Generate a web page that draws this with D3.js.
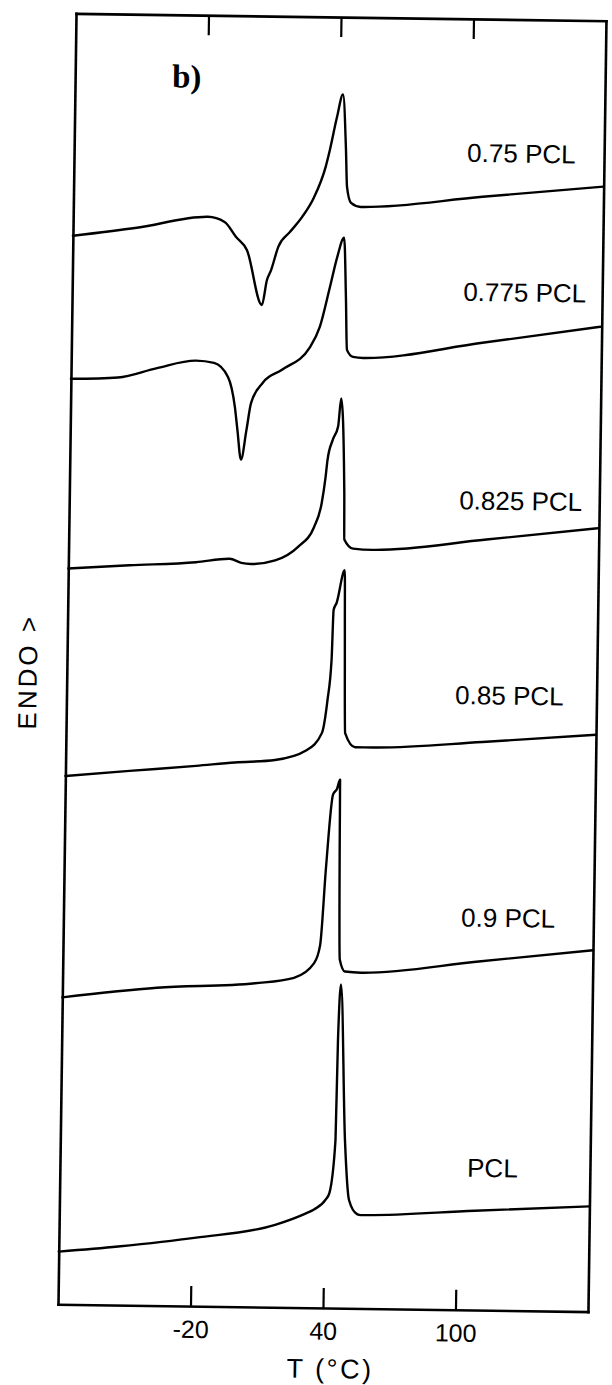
<!DOCTYPE html>
<html><head><meta charset="utf-8">
<script src="https://cdn.jsdelivr.net/npm/d3@7/dist/d3.min.js"></script>
<style>html,body{margin:0;padding:0;background:#fff}</style>
</head><body>
<svg id="c" width="612" height="1385"></svg>
<script>
// ---------------- data ----------------
const seriesNames = ["0.75 PCL", "0.775 PCL", "0.825 PCL", "0.85 PCL", "0.9 PCL", "PCL"];

// temperature (°C) and endothermic signal (arbitrary units, vertically offset)
const t075 = [-80, -51.1, -19.0, -11.4, -6.1, -1.1, 6.0, 8.1, 9.9, 13.1, 18.3, 23.6, 28.9, 34.0, 35.8, 38.8, 41.4, 43.1, 43.8, 45.7, 50.2, 105.2, 160];
const h075 = [107.6, 108.5, 109.7, 109.2, 107.7, 106.4, 100.9, 103.4, 104.4, 106.8, 108.3, 109.8, 111.8, 114.9, 116.6, 119.9, 122.2, 116.6, 112.9, 111.3, 110.9, 112.1, 113.3];

const t0775 = [-80, -58.7, -41.1, -23.5, -15.3, -8.9, -5.6, -4.3, -2.5, -0.2, 1.7, 7.0, 15.5, 28.0, 32.4, 36.7, 39.9, 42.8, 44.0, 44.8, 47.6, 52.1, 106.1, 160];
const h0775 = [93.2, 93.4, 94.4, 95.2, 95.0, 93.6, 90.6, 88.3, 85.3, 88.3, 91.0, 93.1, 94.4, 96.7, 98.8, 102.8, 105.9, 107.8, 101.8, 96.5, 95.8, 95.7, 97.4, 99.2];

const t0825 = [-80, -52.3, -22.2, -7.0, -1.7, 2.7, 13.6, 23.9, 31.0, 34.3, 35.9, 36.7, 38.9, 41.3, 42.5, 44.5, 44.8, 48.8, 57.8, 109.2, 160];
const h0825 = [74.1, 74.5, 74.9, 75.3, 74.9, 74.8, 75.2, 76.6, 78.6, 81.0, 83.6, 85.4, 87.4, 88.8, 91.6, 82.1, 77.4, 76.5, 76.4, 77.6, 78.9];

const t085 = [-80, -51.0, -20.9, -3.3, 14.8, 28.8, 35.9, 38.2, 39.8, 40.4, 41.7, 45.2, 45.6, 46.4, 51.0, 59.1, 108.6, 160];
const h085 = [53.2, 53.8, 54.4, 54.8, 55.1, 56.1, 57.9, 61.2, 65.3, 70.3, 71.0, 74.3, 68.6, 57.9, 56.5, 56.5, 57.2, 58.1];

const t09 = [-80, -37.2, 7.2, 24.8, 33.8, 36.4, 38.6, 41.3, 43.1, 44.4, 44.6, 45.4, 47.8, 55.1, 108.3, 160];
const h09 = [30.9, 32.0, 32.6, 33.2, 34.7, 36.5, 44.4, 51.7, 52.3, 53.2, 47.8, 35.1, 33.9, 33.8, 35.1, 36.4];

const tPCL = [-80, -53.2, -17.9, 17.8, 31.7, 35.3, 40.5, 42.2, 44.6, 45.1, 46.1, 48.9, 51.1, 54.8, 56.6, 108.1, 160];
const hPCL = [5.3, 5.9, 6.9, 8.3, 9.5, 9.9, 10.9, 11.6, 16.9, 27.0, 32.6, 16.9, 10.9, 9.5, 9.4, 10.0, 10.6];

const xTicks = [-20, 40, 100];
const xTickLabels = ["-20", "40", "100"];
const xDomain = [-80, 160];
const yDomain = [0, 130];
const xTitle = "T (°C)";
const yTitle = "ENDO >";
const panelTag = "b)";

// ---------------- layout ----------------
const W = 612, H = 1385;
const frame = {left: 67, top: 17, right: 597, bottom: 1308};
const tilt = 0.8, pivot = [332, 662];
const labelAnchorT = [98.0, 97.1, 96.6, 96.0, 100.1, 104.4];
const labelAnchorV = [115.6, 101.6, 80.6, 61.0, 38.6, 13.4];
const sans = "'Liberation Sans', Arial, sans-serif";

const x = d3.scaleLinear().domain(xDomain).range([frame.left, frame.right]);
const y = d3.scaleLinear().domain(yDomain).range([frame.bottom, frame.top]);

const svg = d3.select("#c");
svg.append("rect").attr("width", W).attr("height", H).attr("fill", "#fff");
const g = svg.append("g").attr("transform", `rotate(${tilt},${pivot[0]},${pivot[1]})`);

const series = [
  {t: t075, h: h075}, {t: t0775, h: h0775}, {t: t0825, h: h0825},
  {t: t085, h: h085}, {t: t09, h: h09}, {t: tPCL, h: hPCL}
];

const line = d3.line().x(d => x(d[0])).y(d => y(d[1])).curve(d3.curveMonotoneX);

g.selectAll("path.curve").data(series).join("path")
  .attr("class", "curve")
  .attr("d", s => line(d3.zip(s.t, s.h)))
  .attr("fill", "none").attr("stroke", "#000").attr("stroke-width", 2.4)
  .attr("stroke-linejoin", "round").attr("stroke-linecap", "round");

// axes
function styleAxis(sel) {
  sel.attr("font-family", sans).attr("font-size", 25);
  sel.select(".domain").attr("stroke", "#000").attr("stroke-width", 2.6).attr("stroke-linecap", "square");
  sel.selectAll(".tick line").attr("stroke", "#000").attr("stroke-width", 2.2);
  sel.selectAll(".tick text").attr("fill", "#000");
}

g.append("g").attr("transform", `translate(0,${frame.bottom})`)
  .call(d3.axisBottom(x).tickValues(xTicks).tickFormat((d, i) => xTickLabels[i])
    .tickSizeInner(-20).tickSizeOuter(0).tickPadding(14))
  .call(styleAxis);

g.append("g").attr("transform", `translate(0,${frame.top})`)
  .call(d3.axisTop(x).tickValues(xTicks).tickFormat(() => "")
    .tickSizeInner(-20).tickSizeOuter(0))
  .call(styleAxis);

g.append("g").attr("transform", `translate(${frame.left},0)`)
  .call(d3.axisLeft(y).tickValues([]).tickSizeOuter(0))
  .call(styleAxis);

g.append("g").attr("transform", `translate(${frame.right},0)`)
  .call(d3.axisRight(y).tickValues([]).tickSizeOuter(0))
  .call(styleAxis);

// curve labels
g.selectAll("text.lab").data(seriesNames).join("text")
  .attr("class", "lab")
  .attr("x", (d, i) => x(labelAnchorT[i]))
  .attr("y", (d, i) => y(labelAnchorV[i]))
  .attr("font-family", sans).attr("font-size", 26).attr("fill", "#000")
  .text(d => d);

// panel tag
g.append("text").attr("x", 164).attr("y", 89.5)
  .attr("font-family", "'Liberation Serif', 'Times New Roman', serif")
  .attr("font-weight", "bold")
  .attr("font-size", 33).attr("fill", "#000").text(panelTag);

// axis titles
g.append("text").attr("x", (frame.left + frame.right) / 2 + 8).attr("y", 1378)
  .attr("text-anchor", "middle").attr("font-family", sans).attr("font-size", 27)
  .attr("letter-spacing", 2.5).attr("fill", "#000").text(xTitle);

g.append("text").attr("transform", "translate(37,676) rotate(-90)")
  .attr("text-anchor", "middle").attr("font-family", sans).attr("font-size", 26)
  .attr("letter-spacing", 3).attr("fill", "#000").text(yTitle);
</script>
</body></html>
